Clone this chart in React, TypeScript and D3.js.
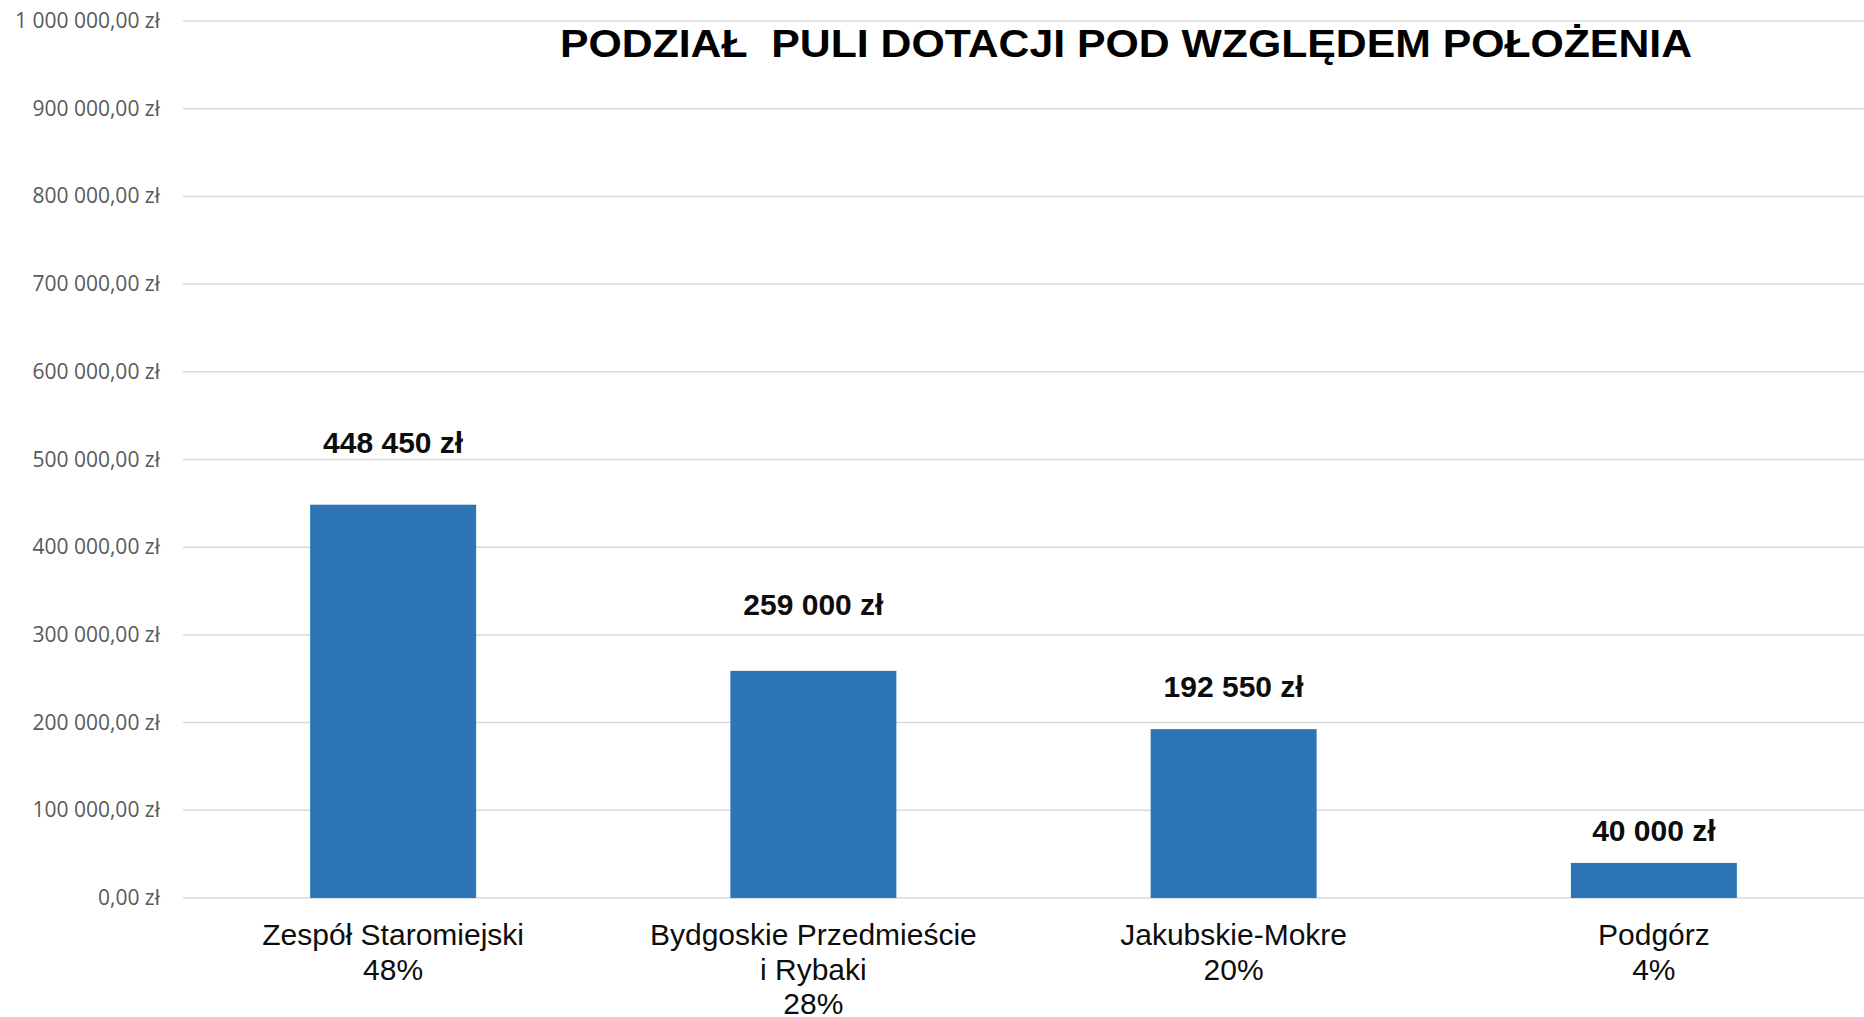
import React, { useEffect, useRef } from 'react';
import * as d3 from 'd3';

const categories = ['Zespół Staromiejski', 'Bydgoskie Przedmieście\ni Rybaki', 'Jakubskie-Mokre', 'Podgórz'];
const values = [448450, 259000, 192550, 40000];
const yTicks = [0, 100000, 200000, 300000, 400000, 500000, 600000, 700000, 800000, 900000, 1000000];
// how far (px) each value label sits above its bar, as placed in the original
const labelLift = [52, 56, 32, 22];

const title = 'PODZIAŁ  PULI DOTACJI POD WZGLĘDEM POŁOŻENIA';

const W = 1864;
const H = 1017;

const pl = d3.formatLocale({ decimal: ',', thousands: '\u00a0', grouping: [3], currency: ['', ' zł'] });
const fmtTick = pl.format(',.2f');
const fmtVal = pl.format(',.0f');
const fmtPct = d3.format('.0%');

export default function App() {
  const ref = useRef<SVGSVGElement>(null);

  useEffect(() => {
    const svg = d3.select(ref.current);
    svg.selectAll('*').remove();

    const margin = { top: 21, bottom: 119, left: 183, right: 0 };
    const x = d3.scaleBand()
      .domain(categories)
      .range([margin.left, W - margin.right])
      .paddingInner(0.605)
      .paddingOuter(0.3025);
    const y = d3.scaleLinear().domain([0, 1000000]).range([H - margin.bottom, margin.top]);

    // gridlines + y labels
    const grid = svg.append('g');
    grid.selectAll('line')
      .data(yTicks)
      .enter()
      .append('line')
      .attr('x1', margin.left)
      .attr('x2', W)
      .attr('y1', d => y(d))
      .attr('y2', d => y(d))
      .attr('stroke', '#d9d9d9')
      .attr('stroke-width', 1.5);
    grid.selectAll('text')
      .data(yTicks)
      .enter()
      .append('text')
      .attr('x', 160)
      .attr('y', d => y(d) + 7)
      .attr('text-anchor', 'end')
      .attr('font-family', '"Open Sans", sans-serif')
      .attr('font-size', 21)
      .attr('fill', '#595959')
      .text(d => fmtTick(d) + ' zł');

    const total = d3.sum(values);

    // bars
    svg.append('g')
      .selectAll('rect')
      .data(values)
      .enter()
      .append('rect')
      .attr('x', (d, i) => x(categories[i]) as number)
      .attr('width', x.bandwidth())
      .attr('y', d => y(d))
      .attr('height', d => y(0) - y(d))
      .attr('fill', '#2e75b6');

    // value labels
    svg.append('g')
      .selectAll('text')
      .data(values)
      .enter()
      .append('text')
      .attr('x', (d, i) => (x(categories[i]) as number) + x.bandwidth() / 2)
      .attr('y', (d, i) => y(d) - labelLift[i])
      .attr('text-anchor', 'middle')
      .attr('font-family', '"Liberation Sans", Arial, sans-serif')
      .attr('font-weight', 'bold')
      .attr('font-size', 30)
      .attr('fill', '#0d0d0d')
      .text(d => fmtVal(d) + ' zł');

    // category labels
    const cats = svg.append('g')
      .selectAll('text')
      .data(categories)
      .enter()
      .append('text')
      .attr('text-anchor', 'middle')
      .attr('font-family', '"Liberation Sans", Arial, sans-serif')
      .attr('font-size', 30)
      .attr('fill', '#0d0d0d');
    cats.each(function (d, i) {
      const lines = d.split('\n').concat(fmtPct(values[i] / total));
      const cx = (x(d) as number) + x.bandwidth() / 2;
      d3.select(this)
        .selectAll('tspan')
        .data(lines)
        .enter()
        .append('tspan')
        .attr('x', cx)
        .attr('y', (l, j) => 945 + j * 34.5)
        .text(l => l);
    });

    // title
    svg.append('text')
      .attr('x', 1126)
      .attr('y', 57)
      .attr('text-anchor', 'middle')
      .attr('font-family', '"Liberation Sans", Arial, sans-serif')
      .attr('font-weight', 'bold')
      .attr('font-size', 38)
      .attr('textLength', 1132)
      .attr('lengthAdjust', 'spacingAndGlyphs')
      .attr('fill', '#000')
      .style('white-space', 'pre')
      .text(title);
  }, []);

  return (
    <svg ref={ref} width={W} height={H} style={{ position: 'absolute', left: 0, top: 0, background: '#fff' }} />
  );
}
